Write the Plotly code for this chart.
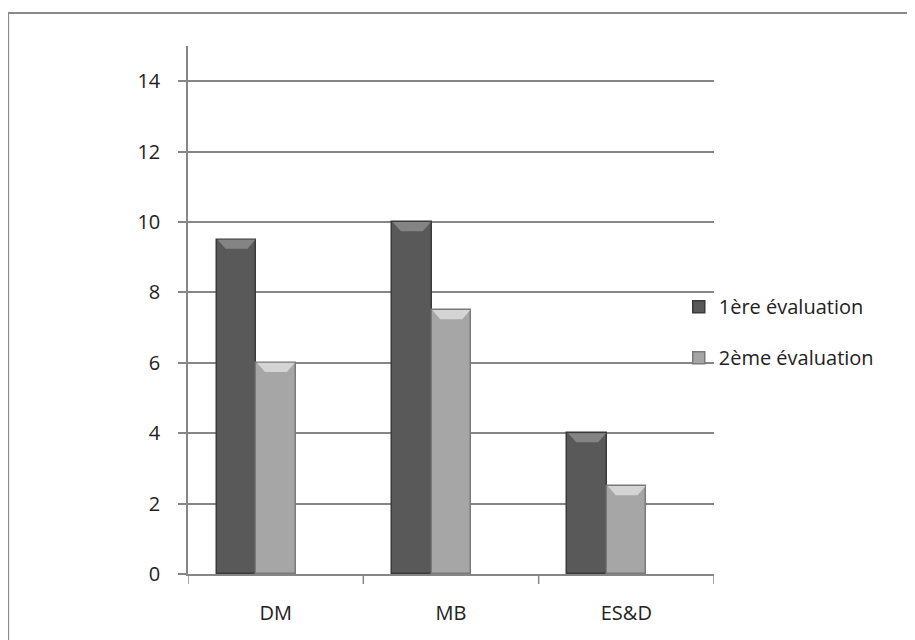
import plotly.graph_objects as go

categories = ["DM", "MB", "ES&D"]
series_names = ["1ère évaluation", "2ème évaluation"]
eval1 = [9.5, 10, 4]
eval2 = [6, 7.5, 2.5]
y_ticks = [0, 2, 4, 6, 8, 10, 12, 14]

W = 0.225
offsets = [-0.336, -0.111]
fills = ["#595959", "#a6a6a6"]
edges = ["#3a3a3a", "#7a7a7a"]
tops = ["#8c8c8c", "#dcdcdc"]

fig = go.Figure()
for name, vals, off, fc, ec in zip(series_names, [eval1, eval2], offsets, fills, edges):
    fig.add_trace(go.Bar(
        x=categories, y=vals, name=name, width=W, offset=off,
        marker=dict(color=fc, line=dict(color=ec, width=1.5)),
        legendgroup=name,
    ))

# bevel tops built from the data values
shapes = []
for vals, off, tc in zip([eval1, eval2], offsets, tops):
    for i, v in enumerate(vals):
        x0 = i + off
        x1 = x0 + W
        d = 0.05
        h = 0.26
        path = f"M {x0+0.004} {v} L {x1-0.004} {v} L {x1-d} {v-h} L {x0+d} {v-h} Z"
        shapes.append(dict(type="path", xref="x", yref="y", path=path,
                           fillcolor=tc, line=dict(width=0), layer="above", opacity=0.85))

# outer chart border
shapes.append(dict(type="rect", xref="paper", yref="paper",
                   x0=-0.342, x1=1.5, y0=-0.3, y1=1.0625,
                   line=dict(color="#8a8a8a", width=2), fillcolor="rgba(0,0,0,0)", layer="below"))

# category separators on the x axis (Excel-style tick marks between categories)
for b in [-0.5, 0.5, 1.5, 2.5]:
    shapes.append(dict(type="line", xref="x", yref="paper", x0=b, x1=b, y0=0, y1=-0.019,
                       line=dict(color="#868686", width=1.5)))

fig.update_layout(
    width=907, height=632,
    margin=dict(l=180, r=201, t=38, b=66),
    paper_bgcolor="white", plot_bgcolor="white",
    font=dict(family="Open Sans, DejaVu Sans, sans-serif", size=20, color="#222222"),
    showlegend=True,
    legend=dict(x=0.933, y=0.458, xanchor="left", yanchor="middle",
                traceorder="grouped", tracegroupgap=22,
                font=dict(size=20, color="#222222"), bgcolor="rgba(0,0,0,0)"),
    shapes=shapes,
    bargap=0, bargroupgap=0,
)
fig.update_xaxes(
    type="category", range=[-0.5, 2.5],
    showgrid=False, showline=True, linecolor="#868686", linewidth=1.5,
    ticks="", tickfont=dict(size=20), ticklabelstandoff=20,
)
fig.update_yaxes(
    range=[0, 15], tickvals=y_ticks, ticktext=[str(t) for t in y_ticks],
    showgrid=True, gridcolor="#868686", gridwidth=1.5,
    showline=True, linecolor="#868686", linewidth=1.5,
    ticks="outside", ticklen=8, tickcolor="#868686", tickwidth=1.5,
    tickfont=dict(size=20), zeroline=False, ticklabelstandoff=14,
)

fig.write_html("out.html")
